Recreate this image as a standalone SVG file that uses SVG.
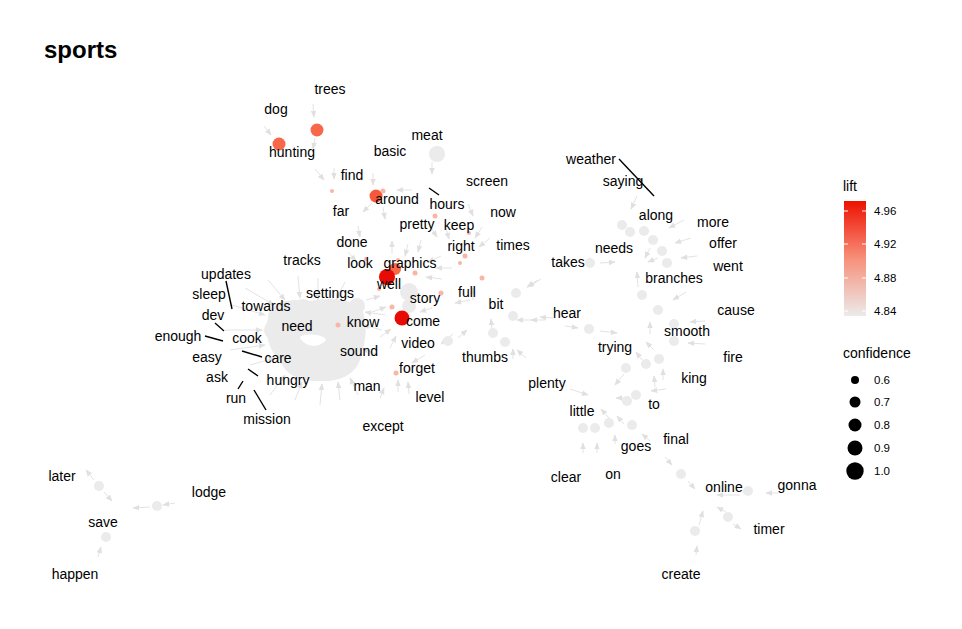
<svg xmlns="http://www.w3.org/2000/svg" width="962" height="629" viewBox="0 0 962 629">
<defs>
<marker id="ah" viewBox="0 0 10 10" refX="9" refY="5" markerWidth="7" markerHeight="7" markerUnits="userSpaceOnUse" orient="auto"><path d="M0,1 L10,5 L0,9 z" fill="#E0E0E0"/></marker>
<linearGradient id="lg" x1="0" y1="0" x2="0" y2="1"><stop offset="0" stop-color="#EE1100"/><stop offset="0.5" stop-color="#F7907A"/><stop offset="1" stop-color="#EBEBEB"/></linearGradient>
<style>
text{font-family:"Liberation Sans",Arial,sans-serif;fill:#000}
.l{font-size:14px;text-anchor:middle}
.e{stroke:#E3E3E3;stroke-width:1;fill:none;marker-end:url(#ah)}
.ld{stroke:#000;stroke-width:1.4}
.g{fill:#EBEBEB}
.p{fill:#F9B5A5}
.t{font-size:11.5px}
.lt{font-size:14px}
</style>
</defs>
<rect width="962" height="629" fill="#fff"/>
<text x="44" y="58" style="font-size:24px;font-weight:bold">sports</text>

<g id="connectors">
<line class="e" x1="313" y1="104" x2="314" y2="117"/>
<line class="e" x1="315" y1="138" x2="313" y2="149"/>
<line class="e" x1="264" y1="126" x2="271" y2="135"/>
<line class="e" x1="315" y1="169" x2="324" y2="180"/>
<line class="e" x1="334" y1="168" x2="334" y2="179"/>
<line class="e" x1="432" y1="162" x2="432" y2="174"/>
<line class="e" x1="373" y1="173" x2="373" y2="185"/>
<line class="e" x1="412" y1="190" x2="397" y2="190"/>
<line class="e" x1="372" y1="203" x2="363" y2="212"/>
<line class="e" x1="383" y1="207" x2="385" y2="219"/>
<line class="e" x1="358" y1="226" x2="360" y2="237"/>
<line class="e" x1="392" y1="254" x2="392" y2="241"/>
<line class="e" x1="430" y1="226" x2="437" y2="237"/>
<line class="e" x1="446" y1="228" x2="449" y2="239"/>
<line class="e" x1="482" y1="227" x2="475" y2="238"/>
<line class="e" x1="468" y1="204" x2="473" y2="216"/>
<line class="e" x1="490" y1="238" x2="479" y2="247"/>
<line class="e" x1="348" y1="252" x2="356" y2="261"/>
<line class="e" x1="408" y1="244" x2="405" y2="256"/>
<line class="e" x1="421" y1="240" x2="418" y2="252"/>
<line class="e" x1="452" y1="268" x2="436" y2="268"/>
<line class="e" x1="442" y1="279" x2="426" y2="277"/>
<line class="e" x1="441" y1="256" x2="428" y2="262"/>
<line class="e" x1="366" y1="300" x2="380" y2="296"/>
<line class="e" x1="372" y1="312" x2="386" y2="307"/>
<line class="e" x1="380" y1="337" x2="391" y2="329"/>
<line class="e" x1="390" y1="348" x2="396" y2="336"/>
<line class="e" x1="432" y1="308" x2="420" y2="312"/>
<line class="e" x1="398" y1="392" x2="398" y2="380"/>
<line class="e" x1="409" y1="394" x2="408" y2="382"/>
<line class="e" x1="380" y1="398" x2="384" y2="388"/>
<line class="e" x1="425" y1="355" x2="412" y2="363"/>
<line class="e" x1="470" y1="300" x2="455" y2="303"/>
<line class="e" x1="473" y1="300" x2="473" y2="288"/>
<line class="e" x1="538" y1="280" x2="527" y2="287"/>
<line class="e" x1="531" y1="320" x2="517" y2="320"/>
<line class="e" x1="492" y1="331" x2="491" y2="319"/>
<line class="e" x1="458" y1="338" x2="467" y2="330"/>
<line class="e" x1="513" y1="359" x2="513" y2="349"/>
<line class="e" x1="526" y1="358" x2="517" y2="350"/>
<line class="e" x1="553" y1="318" x2="540" y2="317"/>
<line class="e" x1="453" y1="334" x2="441" y2="344"/>
<line class="e" x1="637" y1="196" x2="631" y2="209"/>
<line class="e" x1="684" y1="220" x2="669" y2="228"/>
<line class="e" x1="691" y1="238" x2="675" y2="243"/>
<line class="e" x1="697" y1="256" x2="681" y2="258"/>
<line class="e" x1="638" y1="287" x2="637" y2="272"/>
<line class="e" x1="686" y1="292" x2="673" y2="300"/>
<line class="e" x1="705" y1="321" x2="690" y2="322"/>
<line class="e" x1="650" y1="334" x2="650" y2="322"/>
<line class="e" x1="600" y1="263" x2="615" y2="262"/>
<line class="e" x1="650" y1="248" x2="645" y2="258"/>
<line class="e" x1="658" y1="258" x2="648" y2="262"/>
<line class="e" x1="541" y1="279" x2="528" y2="287"/>
<line class="e" x1="545" y1="320" x2="531" y2="320"/>
<line class="e" x1="565" y1="326" x2="578" y2="328"/>
<line class="e" x1="600" y1="331" x2="617" y2="333"/>
<line class="e" x1="705" y1="344" x2="688" y2="343"/>
<line class="e" x1="654" y1="350" x2="646" y2="342"/>
<line class="e" x1="642" y1="360" x2="636" y2="352"/>
<line class="e" x1="624" y1="374" x2="615" y2="385"/>
<line class="e" x1="663" y1="380" x2="663" y2="369"/>
<line class="e" x1="655" y1="387" x2="654" y2="376"/>
<line class="e" x1="666" y1="389" x2="651" y2="391"/>
<line class="e" x1="630" y1="398" x2="616" y2="398"/>
<line class="e" x1="570" y1="389" x2="588" y2="395"/>
<line class="e" x1="609" y1="418" x2="601" y2="409"/>
<line class="e" x1="624" y1="424" x2="617" y2="416"/>
<line class="e" x1="650" y1="441" x2="642" y2="434"/>
<line class="e" x1="583" y1="453" x2="583" y2="443"/>
<line class="e" x1="597" y1="453" x2="597" y2="443"/>
<line class="e" x1="615" y1="444" x2="615" y2="435"/>
<line class="e" x1="665" y1="457" x2="672" y2="465"/>
<line class="e" x1="688" y1="481" x2="695" y2="489"/>
<line class="e" x1="778" y1="493" x2="766" y2="493"/>
<line class="e" x1="740" y1="495" x2="717" y2="495"/>
<line class="e" x1="726" y1="512" x2="717" y2="507"/>
<line class="e" x1="733" y1="524" x2="741" y2="529"/>
<line class="e" x1="699" y1="525" x2="703" y2="511"/>
<line class="e" x1="696" y1="555" x2="697" y2="546"/>
<line class="e" x1="225" y1="330" x2="262" y2="330"/>
<line class="e" x1="232" y1="305" x2="265" y2="315"/>
<line class="e" x1="245" y1="288" x2="274" y2="305"/>
<line class="e" x1="268" y1="280" x2="285" y2="300"/>
<line class="e" x1="298" y1="276" x2="300" y2="298"/>
<line class="e" x1="318" y1="278" x2="318" y2="300"/>
<line class="e" x1="345" y1="282" x2="336" y2="300"/>
<line class="e" x1="230" y1="350" x2="265" y2="345"/>
<line class="e" x1="250" y1="365" x2="275" y2="358"/>
<line class="e" x1="270" y1="395" x2="285" y2="375"/>
<line class="e" x1="295" y1="400" x2="302" y2="382"/>
<line class="e" x1="320" y1="405" x2="322" y2="384"/>
<line class="e" x1="340" y1="400" x2="338" y2="382"/>
<line class="e" x1="358" y1="395" x2="350" y2="378"/>
<line class="e" x1="382" y1="330" x2="363" y2="325"/>
<line class="e" x1="385" y1="315" x2="365" y2="312"/>
<line class="e" x1="378" y1="355" x2="362" y2="348"/>
<line class="e" x1="335" y1="325" x2="318" y2="330"/>
<line class="e" x1="94" y1="480" x2="86" y2="470"/>
<line class="e" x1="104" y1="492" x2="112" y2="501"/>
<line class="e" x1="150" y1="507" x2="133" y2="508"/>
<line class="e" x1="175" y1="503" x2="163" y2="505"/>
<line class="e" x1="98" y1="557" x2="101" y2="547"/>
</g>

<g id="items">
<circle class="g" cx="437" cy="154" r="8"/>
<g id="blob" class="g">
<path d="M268,318 C268,302 290,298 310,301 C330,297 352,298 362,310 C368,322 366,340 362,352 C360,370 345,382 322,381 C300,382 285,375 280,360 C270,352 264,335 268,318 Z M300,338 C306,348 320,348 326,340 C326,334 300,332 300,338 Z" fill-rule="evenodd"/>
<circle cx="285" cy="315" r="14"/><circle cx="303" cy="309" r="10"/><circle cx="274" cy="330" r="10"/>
<circle cx="352" cy="320" r="11"/><circle cx="341" cy="308" r="8"/><circle cx="357" cy="306" r="8"/>
<circle cx="320" cy="368" r="13"/><circle cx="340" cy="364" r="12"/><circle cx="298" cy="362" r="11"/>
<circle cx="409" cy="292" r="9"/><circle cx="409" cy="306" r="7"/>
</g>
<g class="g">
<circle cx="622" cy="225" r="5"/><circle cx="630" cy="232" r="5"/><circle cx="644" cy="231" r="5"/>
<circle cx="653" cy="240" r="5"/><circle cx="662" cy="251" r="5"/><circle cx="667" cy="263" r="5"/>
<circle cx="642" cy="295" r="5"/><circle cx="658" cy="310" r="5"/><circle cx="674" cy="324" r="5"/>
<circle cx="674" cy="341" r="5"/><circle cx="589" cy="329" r="5"/><circle cx="590" cy="263" r="5"/>
<circle cx="516" cy="293" r="5"/><circle cx="513" cy="316" r="5"/><circle cx="505" cy="342" r="5"/>
<circle cx="493" cy="333" r="5"/><circle cx="448" cy="341" r="5"/>
<circle cx="659" cy="359" r="5"/><circle cx="646" cy="364" r="5"/><circle cx="626" cy="368" r="5"/>
<circle cx="636" cy="395" r="5"/><circle cx="627" cy="401" r="5"/>
<circle cx="583" cy="428" r="5"/><circle cx="595" cy="428" r="5"/><circle cx="609" cy="423" r="5"/>
<circle cx="632" cy="425" r="5"/><circle cx="681" cy="474" r="5"/><circle cx="748" cy="491" r="5"/>
<circle cx="728" cy="517" r="5"/><circle cx="695" cy="531" r="5"/>
<circle cx="99" cy="486" r="5"/><circle cx="157" cy="506" r="5"/><circle cx="106" cy="537" r="5"/>
</g>
</g>

<g id="rules">
<circle cx="317" cy="130" r="6.5" fill="#F8674A"/>
<circle cx="279" cy="144" r="6.5" fill="#F8674A"/>
<circle cx="376" cy="196" r="6.5" fill="#F5583A"/>
<circle class="p" cx="383" cy="191" r="2.5"/>
<circle class="p" cx="332" cy="191" r="2"/>
<circle class="p" cx="435" cy="216" r="2.5"/>
<circle class="p" cx="469" cy="233" r="2"/>
<circle class="p" cx="465" cy="256" r="2.5"/>
<circle class="p" cx="460" cy="263" r="2"/>
<circle class="p" cx="482" cy="278" r="2.5"/>
<circle class="p" cx="441" cy="293" r="2.5"/>
<circle class="p" cx="415" cy="273" r="2.5"/>
<circle class="p" cx="366" cy="259" r="2"/>
<circle class="p" cx="398" cy="260" r="2"/>
<circle cx="395" cy="269" r="6" fill="#F86848"/>
<circle cx="387" cy="277" r="8" fill="#E80A05"/>
<circle class="p" cx="379" cy="289" r="2"/>
<circle class="p" cx="392" cy="307" r="2.5"/>
<circle cx="402" cy="318" r="7.5" fill="#E80A05"/>
<circle class="p" cx="338" cy="325" r="2.5"/>
<circle class="p" cx="396" cy="373" r="2.5"/>
</g>

<g id="leaders">
<line class="ld" x1="226" y1="281" x2="232" y2="309"/>
<line class="ld" x1="215" y1="323" x2="224" y2="331"/>
<line class="ld" x1="205" y1="336" x2="223" y2="341"/>
<line class="ld" x1="242" y1="351" x2="262" y2="357"/>
<line class="ld" x1="248" y1="369" x2="258" y2="376"/>
<line class="ld" x1="238" y1="389" x2="243" y2="381"/>
<line class="ld" x1="254" y1="390" x2="266" y2="410"/>
<line class="ld" x1="429" y1="188" x2="439" y2="195"/>
<line class="ld" x1="619" y1="159" x2="654" y2="196"/>
</g>

<g id="labels">
<g id="n-trees"><text class="l" x="330" y="94">trees</text></g>
<g id="n-dog"><text class="l" x="276" y="114">dog</text></g>
<g id="n-meat"><text class="l" x="427" y="140">meat</text></g>
<g id="n-hunting"><text class="l" x="292" y="157">hunting</text></g>
<g id="n-basic"><text class="l" x="390" y="156">basic</text></g>
<g id="n-weather"><text class="l" x="591" y="164">weather</text></g>
<g id="n-saying"><text class="l" x="623" y="186">saying</text></g>
<g id="n-find"><text class="l" x="352" y="180">find</text></g>
<g id="n-screen"><text class="l" x="487" y="186">screen</text></g>
<g id="n-far"><text class="l" x="341" y="216">far</text></g>
<g id="n-around"><text class="l" x="397" y="204">around</text></g>
<g id="n-hours"><text class="l" x="447" y="209">hours</text></g>
<g id="n-now"><text class="l" x="503" y="217">now</text></g>
<g id="n-along"><text class="l" x="656" y="220">along</text></g>
<g id="n-more"><text class="l" x="713" y="227">more</text></g>
<g id="n-pretty"><text class="l" x="417" y="229">pretty</text></g>
<g id="n-keep"><text class="l" x="459" y="230">keep</text></g>
<g id="n-done"><text class="l" x="352" y="247">done</text></g>
<g id="n-right"><text class="l" x="461" y="251">right</text></g>
<g id="n-times"><text class="l" x="513" y="250">times</text></g>
<g id="n-offer"><text class="l" x="723" y="248">offer</text></g>
<g id="n-needs"><text class="l" x="614" y="253">needs</text></g>
<g id="n-tracks"><text class="l" x="302" y="265">tracks</text></g>
<g id="n-look"><text class="l" x="360" y="268">look</text></g>
<g id="n-graphics"><text class="l" x="410" y="268">graphics</text></g>
<g id="n-takes"><text class="l" x="568" y="267">takes</text></g>
<g id="n-went"><text class="l" x="728" y="271">went</text></g>
<g id="n-updates"><text class="l" x="226" y="279">updates</text></g>
<g id="n-well"><text class="l" x="389" y="289">well</text></g>
<g id="n-branches"><text class="l" x="674" y="283">branches</text></g>
<g id="n-sleep"><text class="l" x="209" y="299">sleep</text></g>
<g id="n-settings"><text class="l" x="330" y="298">settings</text></g>
<g id="n-full"><text class="l" x="467" y="297">full</text></g>
<g id="n-story"><text class="l" x="425" y="303">story</text></g>
<g id="n-towards"><text class="l" x="266" y="311">towards</text></g>
<g id="n-bit"><text class="l" x="496" y="309">bit</text></g>
<g id="n-dev"><text class="l" x="213" y="320">dev</text></g>
<g id="n-cause"><text class="l" x="736" y="315">cause</text></g>
<g id="n-hear"><text class="l" x="567" y="318">hear</text></g>
<g id="n-need"><text class="l" x="297" y="331">need</text></g>
<g id="n-know"><text class="l" x="363" y="327">know</text></g>
<g id="n-come"><text class="l" x="423" y="326">come</text></g>
<g id="n-smooth"><text class="l" x="687" y="336">smooth</text></g>
<g id="n-enough"><text class="l" x="178" y="341">enough</text></g>
<g id="n-cook"><text class="l" x="247" y="343">cook</text></g>
<g id="n-video"><text class="l" x="418" y="348">video</text></g>
<g id="n-trying"><text class="l" x="615" y="352">trying</text></g>
<g id="n-sound"><text class="l" x="359" y="356">sound</text></g>
<g id="n-care"><text class="l" x="278" y="363">care</text></g>
<g id="n-thumbs"><text class="l" x="485" y="362">thumbs</text></g>
<g id="n-easy"><text class="l" x="207" y="362">easy</text></g>
<g id="n-fire"><text class="l" x="733" y="362">fire</text></g>
<g id="n-forget"><text class="l" x="417" y="373">forget</text></g>
<g id="n-hungry"><text class="l" x="288" y="385">hungry</text></g>
<g id="n-ask"><text class="l" x="217" y="382">ask</text></g>
<g id="n-king"><text class="l" x="694" y="383">king</text></g>
<g id="n-man"><text class="l" x="367" y="391">man</text></g>
<g id="n-plenty"><text class="l" x="547" y="388">plenty</text></g>
<g id="n-level"><text class="l" x="430" y="402">level</text></g>
<g id="n-run"><text class="l" x="236" y="403">run</text></g>
<g id="n-little"><text class="l" x="582" y="416">little</text></g>
<g id="n-to"><text class="l" x="654" y="409">to</text></g>
<g id="n-mission"><text class="l" x="267" y="424">mission</text></g>
<g id="n-except"><text class="l" x="383" y="431">except</text></g>
<g id="n-final"><text class="l" x="676" y="444">final</text></g>
<g id="n-goes"><text class="l" x="636" y="451">goes</text></g>
<g id="n-clear"><text class="l" x="566" y="482">clear</text></g>
<g id="n-on"><text class="l" x="613" y="479">on</text></g>
<g id="n-later"><text class="l" x="62" y="481">later</text></g>
<g id="n-lodge"><text class="l" x="209" y="497">lodge</text></g>
<g id="n-online"><text class="l" x="724" y="492">online</text></g>
<g id="n-gonna"><text class="l" x="797" y="490">gonna</text></g>
<g id="n-save"><text class="l" x="103" y="527">save</text></g>
<g id="n-timer"><text class="l" x="769" y="534">timer</text></g>
<g id="n-happen"><text class="l" x="75" y="579">happen</text></g>
<g id="n-create"><text class="l" x="681" y="579">create</text></g>
</g>

<g id="legend">
<text class="lt" x="843" y="191">lift</text>
<rect x="844" y="201" width="22" height="115" fill="url(#lg)"/>
<g stroke="#fff" stroke-width="1">
<line x1="844" y1="211" x2="848" y2="211"/><line x1="862" y1="211" x2="866" y2="211"/>
<line x1="844" y1="244" x2="848" y2="244"/><line x1="862" y1="244" x2="866" y2="244"/>
<line x1="844" y1="278" x2="848" y2="278"/><line x1="862" y1="278" x2="866" y2="278"/>
<line x1="844" y1="311" x2="848" y2="311"/><line x1="862" y1="311" x2="866" y2="311"/>
</g>
<text class="t" x="874" y="215">4.96</text>
<text class="t" x="874" y="248">4.92</text>
<text class="t" x="874" y="282">4.88</text>
<text class="t" x="874" y="315">4.84</text>
<text class="lt" x="843" y="358">confidence</text>
<circle cx="855" cy="380" r="4"/>
<circle cx="855" cy="402" r="5.5"/>
<circle cx="855" cy="425" r="6.5"/>
<circle cx="855" cy="448" r="7.5"/>
<circle cx="855" cy="471" r="8.7"/>
<text class="t" x="874" y="384">0.6</text>
<text class="t" x="874" y="406">0.7</text>
<text class="t" x="874" y="429">0.8</text>
<text class="t" x="874" y="452">0.9</text>
<text class="t" x="874" y="475">1.0</text>
</g>
</svg>
